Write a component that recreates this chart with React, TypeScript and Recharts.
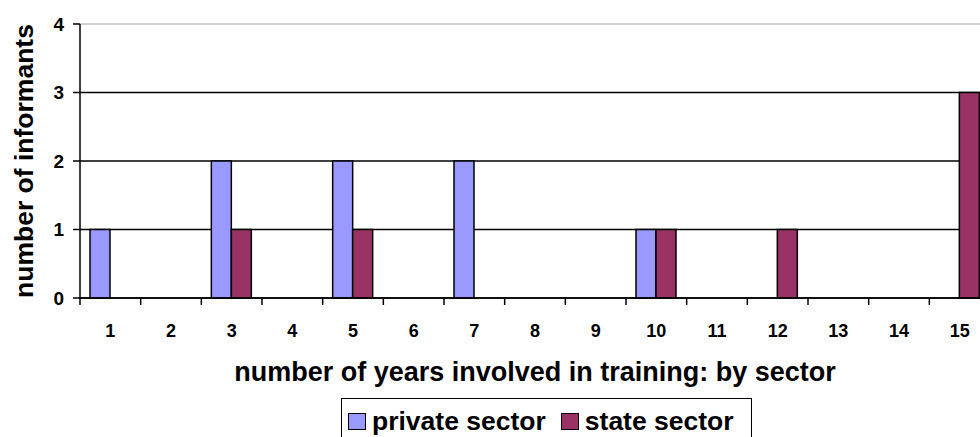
import React from 'react';
import {
  BarChart, Bar, XAxis, YAxis, CartesianGrid, Legend,
} from 'recharts';

// values
const years = ['1', '2', '3', '4', '5', '6', '7', '8', '9', '10', '11', '12', '13', '14', '15'];
const privateSector = [1, 0, 2, 0, 2, 0, 2, 0, 0, 1, 0, 0, 0, 0, 0];
const stateSector = [0, 0, 1, 0, 1, 0, 0, 0, 0, 1, 0, 1, 0, 0, 3];
const yTicks = [0, 1, 2, 3, 4];

const seriesNames = { private: 'private sector', state: 'state sector' };
const COLORS = { private: '#9999FF', state: '#993366' };

const data = years.map((year, i) => ({
  year,
  private: privateSector[i],
  state: stateSector[i],
}));

const FONT = '"Liberation Sans", Arial, Helvetica, sans-serif';

// layout
const CHART_W = 1000;
const CHART_H = 437;
const Y_AXIS_W = 80;
const MARGIN = { top: 24, right: 10, left: 0, bottom: 99 };
const X_AXIS_H = 40;
const PLOT_W = CHART_W - MARGIN.left - MARGIN.right - Y_AXIS_W;
const BAND = PLOT_W / years.length;
const LINE_W = 1.5;

// Excel style category axis: tick marks sit between the categories
const XTick = (props: any) => {
  const { x, y, payload } = props;
  return (
    <g>
      <line x1={x - BAND / 2} y1={y} x2={x - BAND / 2} y2={y + 7} stroke="#000" strokeWidth={LINE_W} />
      <text
        x={x}
        y={y + 39}
        textAnchor="middle"
        fontFamily={FONT}
        fontWeight="bold"
        fontSize={18}
        fill="#000"
      >
        {payload.value}
      </text>
    </g>
  );
};

const GridLine = (props: any) => {
  const { x1, y1, x2, y2 } = props;
  // the top border of the plot area is grey, the value lines are black
  const isTop = Math.abs(y1 - MARGIN.top) < 1;
  return (
    <line
      x1={x1}
      y1={y1}
      x2={x2}
      y2={y2}
      stroke={isTop ? '#c0c0c0' : '#000'}
      strokeWidth={isTop ? 1.5 : LINE_W}
    />
  );
};

const LegendBox = () => (
  <div
    style={{
      boxSizing: 'border-box',
      width: 411,
      height: 46,
      border: '1.5px solid #000',
      display: 'flex',
      alignItems: 'flex-start',
      paddingLeft: 6,
      paddingTop: 12,
      fontFamily: FONT,
      fontWeight: 'bold',
      fontSize: 26.5,
      lineHeight: '20px',
      color: '#000',
      background: '#fff',
    }}
  >
    {(['private', 'state'] as const).map((key, i) => (
      <div key={key} style={{ display: 'flex', alignItems: 'center', marginLeft: i ? 15 : 0 }}>
        <span
          style={{
            display: 'inline-block',
            boxSizing: 'border-box',
            width: 18,
            height: 17,
            border: '1.5px solid #000',
            background: COLORS[key],
            marginRight: 6,
          }}
        />
        <span style={{ whiteSpace: 'nowrap' }}>{seriesNames[key]}</span>
      </div>
    ))}
  </div>
);

export default function App() {
  return (
    <div
      style={{
        position: 'fixed',
        left: 0,
        top: 0,
        width: 980,
        height: 437,
        overflow: 'hidden',
        background: '#fff',
      }}
    >
      <BarChart
        width={CHART_W}
        height={CHART_H}
        data={data}
        margin={MARGIN}
        barSize={20}
        barGap={0}
      >
        <CartesianGrid vertical={false} horizontal={GridLine} />
        <XAxis
          dataKey="year"
          interval={0}
          height={X_AXIS_H}
          tickLine={false}
          tickSize={0}
          tickMargin={0}
          axisLine={{ stroke: '#000', strokeWidth: LINE_W }}
          tick={XTick}
          label={{
            content: () => (
              <text
                x={MARGIN.left + Y_AXIS_W + PLOT_W / 2}
                y={381}
                textAnchor="middle"
                fontFamily={FONT}
                fontWeight="bold"
                fontSize={27}
                fill="#000"
              >
                number of years involved in training: by sector
              </text>
            ),
          }}
        />
        <YAxis
          width={Y_AXIS_W}
          domain={[0, 4]}
          ticks={yTicks}
          interval={0}
          tickSize={7}
          tickMargin={9}
          axisLine={{ stroke: '#000', strokeWidth: LINE_W }}
          tickLine={{ stroke: '#000', strokeWidth: LINE_W }}
          tick={{ fontFamily: FONT, fontWeight: 'bold', fontSize: 19, fill: '#000' }}
          label={{
            content: () => (
              <text
                x={33}
                y={161}
                transform="rotate(-90, 33, 161)"
                textAnchor="middle"
                fontFamily={FONT}
                fontWeight="bold"
                fontSize={26.5}
                fill="#000"
              >
                number of informants
              </text>
            ),
          }}
        />
        <Legend
          verticalAlign="middle"
          align="center"
          content={LegendBox}
          wrapperStyle={{ left: 341, top: 398, width: 411, height: 46 }}
        />
        <Bar
          dataKey="private"
          name={seriesNames.private}
          fill={COLORS.private}
          stroke="#000"
          strokeWidth={LINE_W}
          isAnimationActive={false}
        />
        <Bar
          dataKey="state"
          name={seriesNames.state}
          fill={COLORS.state}
          stroke="#000"
          strokeWidth={LINE_W}
          isAnimationActive={false}
        />
      </BarChart>
    </div>
  );
}
